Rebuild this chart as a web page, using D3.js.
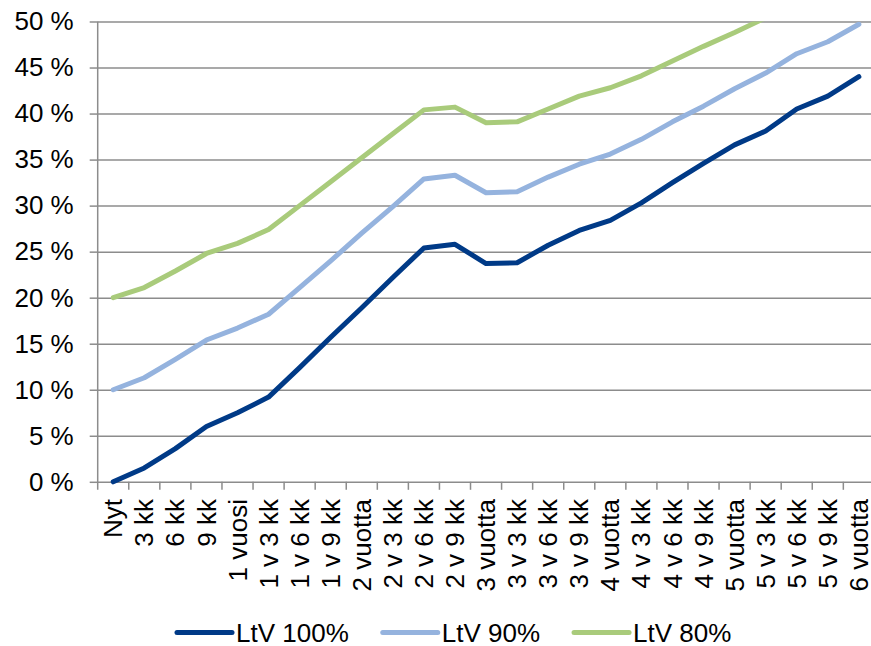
<!DOCTYPE html>
<html>
<head>
<meta charset="utf-8">
<script src="https://cdnjs.cloudflare.com/ajax/libs/d3/7.8.5/d3.min.js"></script>
<style>
body{margin:0;background:#fff}
text{font-family:"Liberation Sans",Arial,sans-serif;font-size:26px;fill:#000}
</style>
</head>
<body>
<script>
var categories = ['Nyt','3 kk','6 kk','9 kk','1 vuosi','1 v 3 kk','1 v 6 kk','1 v 9 kk','2 vuotta',
	'2 v 3 kk','2 v 6 kk','2 v 9 kk','3 vuotta','3 v 3 kk','3 v 6 kk','3 v 9 kk','4 vuotta',
	'4 v 3 kk','4 v 6 kk','4 v 9 kk','5 vuotta','5 v 3 kk','5 v 6 kk','5 v 9 kk','6 vuotta']

var ltv100 = [0,1.5,3.6,6.0,7.5,9.2,12.4,15.7,18.9,22.2,25.4,25.8,23.7,23.8,25.7,27.3,28.4,30.3,32.5,34.6,36.6,38.1,40.5,41.9,44.0]
var ltv90 = [10.0,11.3,13.3,15.4,16.7,18.2,21.1,24.0,27.0,29.9,32.9,33.3,31.4,31.5,33.1,34.5,35.6,37.2,39.1,40.8,42.7,44.4,46.5,47.8,49.7]
var ltv80 = [20.0,21.1,22.9,24.8,25.9,27.4,30.0,32.6,35.2,37.8,40.4,40.7,39.0,39.1,40.5,41.9,42.8,44.1,45.7,47.3,48.8,50.4,52.0,53.5,55.0]

var yTicks = [0,5,10,15,20,25,30,35,40,45,50]
var seriesNames = ['LtV 100%','LtV 90%','LtV 80%']
var seriesColors = ['#003a87','#95b3de','#a9cb7b']

var WIDTH = 871, HEIGHT = 646
var plot = {left: 97.7, right: 874.4, top: 21.5, bottom: 481.8}
var gridColor = '#8c8c8c'

var svg = d3.select('body').append('svg')
	.attr('width', WIDTH)
	.attr('height', HEIGHT)

var x = d3.scalePoint().domain(categories).range([plot.left, plot.right]).padding(0.5)
var y = d3.scaleLinear().domain([0, 50]).range([plot.bottom, plot.top])
var step = x.step()

// horizontal gridlines
var grid = svg.append('g')
	.attr('transform', 'translate(' + plot.left + ',0)')
	.call(d3.axisLeft(y).tickValues(yTicks).tickSize(-(plot.right - plot.left)).tickFormat(''))
grid.select('.domain').remove()
grid.selectAll('line').attr('stroke', gridColor).attr('stroke-width', 1.5)

// y axis with small outer ticks and labels
var yAxis = svg.append('g')
	.attr('transform', 'translate(' + plot.left + ',0)')
	.call(d3.axisLeft(y).tickValues(yTicks).tickSize(8).tickSizeOuter(0).tickPadding(16)
		.tickFormat(function(d){ return d + ' %' }))
yAxis.select('.domain').remove()
yAxis.selectAll('line').attr('stroke', gridColor).attr('stroke-width', 1.5)
yAxis.selectAll('text').attr('fill', '#000').style('font-size', '26px')
	.style('font-family', '"Liberation Sans",Arial,sans-serif')

// vertical axis line (runs down to the tick length)
svg.append('line')
	.attr('x1', plot.left).attr('x2', plot.left)
	.attr('y1', plot.top).attr('y2', plot.bottom + 8)
	.attr('stroke', gridColor).attr('stroke-width', 1.5)

// x ticks between categories
var bounds = categories.map(function(c){ return x(c) + step / 2 })
svg.append('g').selectAll('line').data(bounds).enter().append('line')
	.attr('x1', function(d){ return d }).attr('x2', function(d){ return d })
	.attr('y1', plot.bottom).attr('y2', plot.bottom + 8)
	.attr('stroke', gridColor).attr('stroke-width', 1.5)

// x labels, rotated
svg.append('g').selectAll('text').data(categories).enter().append('text')
	.attr('transform', function(d){ return 'translate(' + x(d) + ',499) rotate(-90)' })
	.attr('dy', '0.35em')
	.attr('text-anchor', 'end')
	.text(function(d){ return d })

// clip so lines stop at the 50 % gridline
svg.append('clipPath').attr('id', 'clip')
	.append('rect')
	.attr('x', 0).attr('y', plot.top)
	.attr('width', WIDTH).attr('height', HEIGHT - plot.top)

var line = d3.line()
	.x(function(d, i){ return x(categories[i]) })
	.y(function(d){ return y(d) })

var series = [ltv100, ltv90, ltv80]

svg.append('g').attr('clip-path', 'url(#clip)')
	.selectAll('path').data(series).enter().append('path')
	.attr('d', line)
	.attr('fill', 'none')
	.attr('stroke', function(d, i){ return seriesColors[i] })
	.attr('stroke-width', 5)
	.attr('stroke-linejoin', 'round')
	.attr('stroke-linecap', 'round')

// legend
var legend = svg.append('g')
var lx = 177, ly = 632.5
seriesNames.forEach(function(name, i){
	var g = legend.append('g').attr('transform', 'translate(' + lx + ',' + ly + ')')
	g.append('line')
		.attr('x1', 0).attr('x2', 55)
		.attr('y1', 0).attr('y2', 0)
		.attr('stroke', seriesColors[i])
		.attr('stroke-width', 5)
		.attr('stroke-linecap', 'round')
	var t = g.append('text')
		.attr('x', 59).attr('dy', '0.35em')
		.text(name)
	lx += 59 + t.node().getComputedTextLength() + 34
})
</script>
</body>
</html>
